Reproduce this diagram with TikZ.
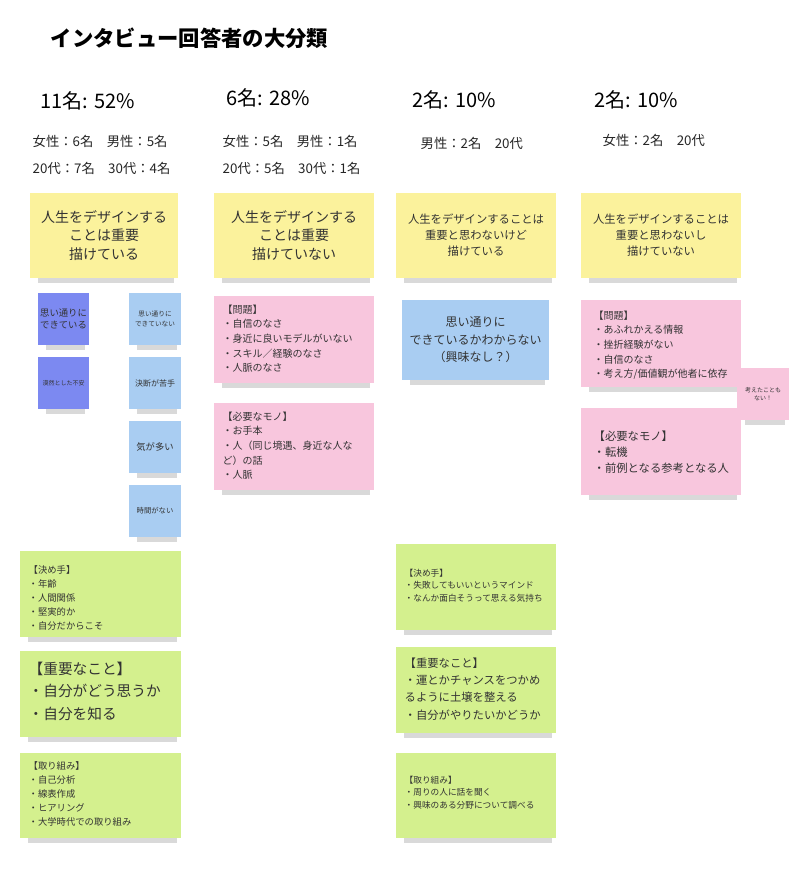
\documentclass[tikz,border=0pt]{standalone}
\usepackage{fontspec}
\setmainfont{Noto Sans CJK JP}
\usetikzlibrary{calc}
\definecolor{cyel}{HTML}{FBF29C}
\definecolor{cpk}{HTML}{F8C6DD}
\definecolor{cgr}{HTML}{D4F08E}
\definecolor{clb}{HTML}{A9CDF2}
\definecolor{cdb}{HTML}{7C89F1}
\begin{document}
\begin{tikzpicture}[x=0.75pt,y=-0.75pt,
  yel/.style={fill=cyel},
  pk/.style={fill=cpk},
  gr/.style={fill=cgr},
  lb/.style={fill=clb},
  db/.style={fill=cdb},
  txt/.style={align=center,font=\fontsize{10.5pt}{14pt}\selectfont,text=black!80},
  lst/.style={align=left,anchor=north west,text=black!80}]
\useasboundingbox (0,0) rectangle (800,871);
\fill[white] (0,0) rectangle (800,871);
\newcommand{\nt}[6]{% name,x1,y1,x2,y2,style
  \fill[black,opacity=0.15] (#2+8,#5-2) rectangle (#4-4,#5+5);
  \fill[#6] (#2,#3) rectangle (#4,#5);
  \coordinate (#1) at ({(#2+#4)/2},{(#3+#5)/2});
  \coordinate (#1nw) at (#2,#3);}
\node[anchor=west,font=\bfseries\fontsize{16pt}{19pt}\selectfont] (title) at (46,38) {インタビュー回答者の大分類};
\node[anchor=west,font=\fontsize{15pt}{18pt}\selectfont] (h1) at (36,101) {11名: 52\%};
\node[anchor=west,font=\fontsize{15pt}{18pt}\selectfont] (h2) at (222,98) {6名: 28\%};
\node[anchor=west,font=\fontsize{15pt}{18pt}\selectfont] (h3) at (408,100) {2名: 10\%};
\node[anchor=west,font=\fontsize{15pt}{18pt}\selectfont] (h4) at (590,100) {2名: 10\%};
\begin{scope}[every node/.style={anchor=west,font=\fontsize{10pt}{12pt}\selectfont,text=black!85}]
\node (s1a) at (28,141) {女性：6名\quad 男性：5名};
\node (s1b) at (28,168) {20代：7名\quad 30代：4名};
\node (s2a) at (218,141) {女性：5名\quad 男性：1名};
\node (s2b) at (218,168) {20代：5名\quad 30代：1名};
\node (s3a) at (416,143) {男性：2名\quad 20代};
\node (s4a) at (598,140) {女性：2名\quad 20代};
\end{scope}
% yellow
\nt{y1}{30}{193}{178}{278}{yel}
\nt{y2}{214}{193}{374}{278}{yel}
\nt{y3}{396}{193}{556}{278}{yel}
\nt{y4}{581}{193}{741}{278}{yel}
\node[txt] (ty1) at (y1) {人生をデザインする\\ことは重要\\描けている};
\node[txt] (ty2) at (y2) {人生をデザインする\\ことは重要\\描けていない};
\node[align=center,font=\fontsize{8.5pt}{12pt}\selectfont,text=black!80] (ty3) at (y3) {人生をデザインすることは\\重要と思わないけど\\描けている};
\node[align=center,font=\fontsize{8.5pt}{12pt}\selectfont,text=black!80] (ty4) at (y4) {人生をデザインすることは\\重要と思わないし\\描けていない};
% blue
\nt{d1}{38}{293}{89}{345}{db}
\nt{d2}{38}{357}{89}{409}{db}
\nt{b1}{129}{293}{181}{345}{lb}
\nt{b2}{129}{357}{181}{409}{lb}
\nt{b3}{129}{421}{181}{473}{lb}
\nt{b4}{129}{485}{181}{537}{lb}
\node[align=center,font=\fontsize{7pt}{9pt}\selectfont,text=black!80] (td1) at (d1) {思い通りに\\できている};
\node[align=center,font=\fontsize{4.5pt}{6pt}\selectfont,text=black!80] (td2) at (d2) {漠然とした不安};
\node[align=center,font=\fontsize{5pt}{7pt}\selectfont,text=black!80] (tb1) at (b1) {思い通りに\\できていない};
\node[align=center,font=\fontsize{6pt}{8pt}\selectfont,text=black!80] (tb2) at (b2) {決断が苦手};
\node[align=center,font=\fontsize{7pt}{9pt}\selectfont,text=black!80] (tb3) at (b3) {気が多い};
\node[align=center,font=\fontsize{5.5pt}{7pt}\selectfont,text=black!80] (tb4) at (b4) {時間がない};
\nt{c3}{402}{300}{549}{380}{lb}
\node[txt,font=\fontsize{9pt}{13pt}\selectfont] (tc3) at (c3) {思い通りに\\できているかわからない\\（興味なし？）};
% pink
\nt{p1}{214}{296}{374}{383}{pk}
\nt{p2}{214}{403}{374}{490}{pk}
\nt{p3}{581}{300}{741}{387}{pk}
\nt{p4}{581}{408}{741}{495}{pk}
\nt{p5}{737}{368}{789}{420}{pk}
\begin{scope}[every node/.style={lst,font=\fontsize{7.5pt}{11pt}\selectfont}]
\node (tp1) at ($(p1nw)+(4,4)$) {【問題】\\・自信のなさ\\・身近に良いモデルがいない\\・スキル／経験のなさ\\・人脈のなさ};
\node (tp2) at ($(p2nw)+(4,4)$) {【必要なモノ】\\・お手本\\・人（同じ境遇、身近な人な\\ど）の話\\・人脈};
\node (tp3) at ($(p3nw)+(8,6)$) {【問題】\\・あふれかえる情報\\・挫折経験がない\\・自信のなさ\\・考え方/価値観が他者に依存};
\node[font=\fontsize{8.5pt}{12pt}\selectfont] (tp4) at ($(p4nw)+(8,18)$) {【必要なモノ】\\・転機\\・前例となる参考となる人};
\end{scope}
\node[align=center,font=\fontsize{4.5pt}{6pt}\selectfont,text=black!80] (tp5) at (p5) {考えたことも\\ない！};
% green
\nt{g1}{20}{551}{181}{637}{gr}
\nt{g2}{20}{651}{181}{737}{gr}
\nt{g3}{20}{753}{181}{838}{gr}
\nt{g4}{396}{544}{556}{630}{gr}
\nt{g5}{396}{647}{556}{733}{gr}
\nt{g6}{396}{753}{556}{838}{gr}
\begin{scope}[every node/.style={lst,font=\fontsize{7pt}{10.5pt}\selectfont}]
\node (tg1) at ($(g1nw)+(4,10)$) {【決め手】\\・年齢\\・人間関係\\・堅実的か\\・自分だからこそ};
\node[font=\fontsize{11pt}{17pt}\selectfont] (tg2) at ($(g2nw)+(4,6)$) {【重要なこと】\\・自分がどう思うか\\・自分を知る};
\node (tg3) at ($(g3nw)+(4,4)$) {【取り組み】\\・自己分析\\・線表作成\\・ヒアリング\\・大学時代での取り組み};
\node[font=\fontsize{6.5pt}{9.5pt}\selectfont] (tg4) at ($(g4nw)+(4,20)$) {【決め手】\\・失敗してもいいというマインド\\・なんか面白そうって思える気持ち};
\node[font=\fontsize{8.5pt}{13pt}\selectfont] (tg5) at ($(g5nw)+(4,6)$) {【重要なこと】\\・運とかチャンスをつかめ\\るように土壌を整える\\・自分がやりたいかどうか};
\node[font=\fontsize{6.5pt}{9.5pt}\selectfont] (tg6) at ($(g6nw)+(4,18)$) {【取り組み】\\・周りの人に話を聞く\\・興味のある分野について調べる};
\end{scope}
\end{tikzpicture}
\end{document}
